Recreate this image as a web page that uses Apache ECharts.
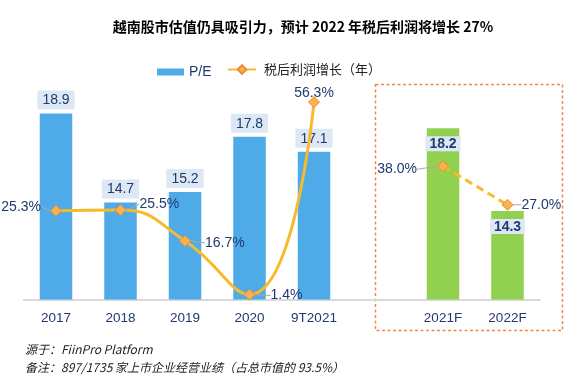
<!DOCTYPE html>
<html><head><meta charset="utf-8">
<script src="https://cdn.jsdelivr.net/npm/echarts@6/dist/echarts.min.js"></script>
<style>html,body{margin:0;padding:0;background:#fff}#c{width:586px;height:383px}</style>
</head><body><div id="c"></div>
<script>
var categories = ['2017', '2018', '2019', '2020', '9T2021', '', '2021F', '2022F'];
var peValues = [18.9, 14.7, 15.2, 17.8, 17.1, null, 18.2, 14.3];
var growthActual = [25.3, 25.5, 16.7, 1.4, 56.3, null, null, null];
var growthForecast = [null, null, null, null, null, null, 38.0, 27.0];
var titleText = '越南股市估值仍具吸引力，预计 2022 年税后利润将增长 27%';
var peName = 'P/E';
var growthName = '税后利润增长（年）';
var note1 = '源于：FiinPro Platform';
var note2 = '备注：897/1735 家上市企业经营业绩（占总市值的 93.5%）';

var forecastStart = 6;
var navy = '#1F3A6E';
var lblPos = ['left', 'right', 'right', 'right', 'top', null, 'left', 'right'];
var lblDx = [-4, 8, 9, 10, 0, 0, -15, 3];
var lblDy = [-4, -6, 2, 1, 9, 0, 3, 0];

function lineData(arr) {
  return arr.map(function (v, i) {
    if (v == null) return '-';
    return { value: v, label: { position: lblPos[i] } };
  });
}
var barData = peValues.map(function (v, i) {
  if (v == null) return '-';
  if (i >= forecastStart) {
    return {
      value: v,
      itemStyle: { color: '#92D050' },
      label: { position: 'insideTop', distance: 8, fontWeight: 'bold', padding: [1, 4, 0, 4] }
    };
  }
  return { value: v };
});

var markerStyle = { color: '#F9B34C', borderColor: '#EC8A3A', borderWidth: 1 };
var lineLabel = {
  show: true, fontSize: 14, color: navy, fontFamily: 'Liberation Sans, Arial',
  formatter: function (p) { return p.value.toFixed(1) + '%'; }
};
function layoutFn(p) {
  return { dx: lblDx[p.dataIndex], dy: lblDy[p.dataIndex] };
}

var chart = echarts.init(document.getElementById('c'), null, { renderer: 'canvas' });
chart.setOption({
  backgroundColor: '#fff',
  animation: false,
  title: {
    text: titleText, left: 298, top: 15, textAlign: 'center',
    textStyle: { fontSize: 14, fontWeight: 'bold', color: '#000', fontFamily: 'Noto Sans CJK SC' }
  },
  legend: [{
    data: [peName], left: 152, top: 60, itemWidth: 27, itemHeight: 7, icon: 'rect',
    textStyle: { fontSize: 14, color: navy, fontFamily: 'Liberation Sans, Arial' }
  }, {
    data: [growthName], left: 222, top: 58, itemWidth: 28, itemHeight: 11,
    textStyle: { fontSize: 13, color: '#222', fontFamily: 'Noto Sans CJK SC', padding: [0, 0, 0, 3] }
  }],
  graphic: [{
    type: 'rect', shape: { x: 375.5, y: 84.5, width: 187, height: 246 },
    style: { fill: 'none', stroke: '#F0894A', lineWidth: 1.5, lineDash: [3, 2.5] }, z: 0
  }, {
    type: 'text', left: 25, top: 343,
    style: { text: note1, fontSize: 12, fontStyle: 'italic', fill: '#222', fontFamily: 'Noto Sans CJK SC' }
  }, {
    type: 'text', left: 25, top: 361,
    style: { text: note2, fontSize: 12, fontStyle: 'italic', fill: '#222', fontFamily: 'Noto Sans CJK SC' }
  }],
  grid: { left: 23.75, right: 46.25, top: 80, bottom: 83.5, containLabel: false },
  xAxis: {
    type: 'category', data: categories,
    axisLine: { lineStyle: { color: '#D9D9D9', width: 2 } },
    axisTick: { show: false },
    axisLabel: { fontSize: 13.5, color: navy, margin: 12, fontFamily: 'Liberation Sans, Arial', interval: 0 }
  },
  yAxis: [{
    type: 'value', min: 10.13, max: 20.48, show: false, splitLine: { show: false }
  }, {
    type: 'value', min: 0, max: 62.6, show: false, splitLine: { show: false }
  }],
  series: [{
    name: peName, type: 'bar', data: barData, barWidth: 32.5, yAxisIndex: 0,
    itemStyle: { color: '#4EABE8' },
    label: {
      show: true, position: 'top', distance: 4, fontSize: 14, color: navy,
      backgroundColor: '#DDE8F5', padding: [3, 5, 2, 5], fontFamily: 'Liberation Sans, Arial'
    },
    z: 2
  }, {
    name: growthName, type: 'line', data: lineData(growthActual), yAxisIndex: 1,
    smooth: 0.5, connectNulls: false,
    lineStyle: { color: '#F6BA2B', width: 3 },
    itemStyle: markerStyle,
    symbol: 'diamond', symbolSize: 11, showSymbol: true,
    label: lineLabel,
    labelLayout: layoutFn,
    labelLine: { show: true, lineStyle: { color: '#AAAAAA', width: 1 } },
    z: 5
  }, {
    name: growthName, type: 'line', data: lineData(growthForecast), yAxisIndex: 1,
    lineStyle: { color: '#F6BA2B', width: 3, type: [8, 5] },
    itemStyle: markerStyle,
    symbol: 'diamond', symbolSize: 11, showSymbol: true,
    label: lineLabel,
    labelLayout: layoutFn,
    labelLine: { show: true, lineStyle: { color: '#AAAAAA', width: 1 } },
    z: 5
  }]
});
</script></body></html>
